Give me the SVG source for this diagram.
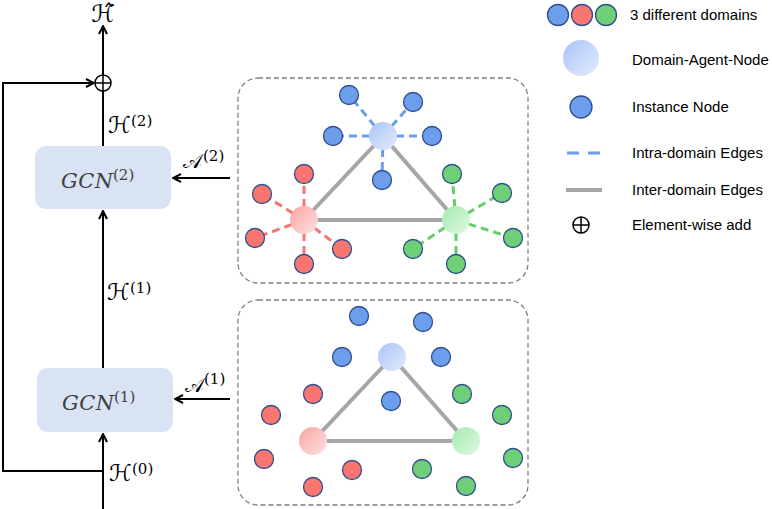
<svg xmlns="http://www.w3.org/2000/svg" width="772" height="509" viewBox="0 0 772 509">
<style>
.ln{stroke:#000;stroke-width:2;fill:none}
.math{font-family:"DejaVu Serif","DejaVu Sans","Noto Sans",serif;fill:#000}
.sup{font-family:"DejaVu Serif","Liberation Serif",serif;fill:#000}
.gcn{font-family:"DejaVu Serif","Liberation Serif",serif;font-style:italic;fill:#404040;letter-spacing:0.5px}
.gsup{font-family:"DejaVu Serif","Liberation Serif",serif;fill:#404040}
.box{fill:#dae3f3}
.panel{fill:none;stroke:#808080;stroke-width:1.3;stroke-dasharray:5,3}
.inter{stroke:#a6a6a6;stroke-width:4;fill:none}
.eb{stroke:#6d9eeb;stroke-width:3;stroke-dasharray:8,5;fill:none}
.er{stroke:#f4766f;stroke-width:3;stroke-dasharray:8,5;fill:none}
.eg{stroke:#66cc6e;stroke-width:3;stroke-dasharray:8,5;fill:none}
.ib{fill:#6d9eeb;stroke:#2f4f8f;stroke-width:1.3}
.ir{fill:#f8766f;stroke:#2f4f8f;stroke-width:1.3}
.ig{fill:#6fcf76;stroke:#2f4f8f;stroke-width:1.3}
.leg{font-family:"Liberation Sans",Arial,sans-serif;font-size:15px;fill:#000}
</style>
<defs>
<marker id="ah" viewBox="0 0 10 10" refX="9" refY="5" markerWidth="10" markerHeight="10" markerUnits="userSpaceOnUse" orient="auto">
<path d="M1,1 L9,5 L1,9" fill="none" stroke="#000" stroke-width="2"/>
</marker>
<linearGradient id="gb" x1="0" y1="0" x2="1" y2="1"><stop offset="0" stop-color="#a9c3f6"/><stop offset="1" stop-color="#e3ecfd"/></linearGradient>
<linearGradient id="gr" x1="0" y1="0" x2="1" y2="1"><stop offset="0" stop-color="#f9a3a1"/><stop offset="1" stop-color="#fde3e3"/></linearGradient>
<linearGradient id="gg" x1="0" y1="0" x2="1" y2="1"><stop offset="0" stop-color="#a5eaad"/><stop offset="1" stop-color="#e0f9e3"/></linearGradient>
</defs>

<g id="connectors">
<polyline class="ln" points="103,471 3,471 3,83 94,83" marker-end="url(#ah)"/>
<line class="ln" x1="103" y1="75" x2="103" y2="26" marker-end="url(#ah)"/>
<line class="ln" x1="103" y1="91" x2="103" y2="146"/>
<line class="ln" x1="103" y1="368" x2="103" y2="211" marker-end="url(#ah)"/>
<line class="ln" x1="103" y1="509" x2="103" y2="434" marker-end="url(#ah)"/>
<line class="ln" x1="230" y1="178" x2="173" y2="178" marker-end="url(#ah)"/>
<line class="ln" x1="230" y1="399" x2="175" y2="399" marker-end="url(#ah)"/>
</g>

<g id="labels">
<text class="math" x="103" y="22" font-size="24" text-anchor="middle">ℋ̂</text>
<text class="math" x="108" y="133" font-size="23">ℋ</text>
<text class="sup" x="131" y="126" font-size="15">(2)</text>
<text class="math" x="107" y="300" font-size="23">ℋ</text>
<text class="sup" x="130" y="293" font-size="15">(1)</text>
<text class="math" x="109" y="481" font-size="23">ℋ</text>
<text class="sup" x="132" y="474" font-size="15">(0)</text>
<text class="math" x="183" y="168" font-size="20">𝒜</text>
<text class="sup" x="203" y="161" font-size="15">(2)</text>
<text class="math" x="185" y="392" font-size="20">𝒜</text>
<text class="sup" x="204" y="384" font-size="15">(1)</text>
</g>

<g id="add">
<circle cx="103" cy="83" r="8" fill="none" stroke="#000" stroke-width="1.5"/>
<line x1="95" y1="83" x2="111" y2="83" stroke="#000" stroke-width="1.5"/>
<line x1="103" y1="75" x2="103" y2="91" stroke="#000" stroke-width="1.5"/>
</g>

<g id="gcn2">
<rect class="box" x="35" y="146" width="136" height="63" rx="11"/>
<text class="gcn" x="61" y="188" font-size="21">GCN</text>
<text class="gsup" x="113" y="180" font-size="15">(2)</text>
</g>

<g id="gcn1">
<rect class="box" x="37" y="368" width="136" height="64" rx="11"/>
<text class="gcn" x="62" y="410" font-size="21">GCN</text>
<text class="gsup" x="114" y="402" font-size="15">(1)</text>
</g>

<g id="graph2">
<rect class="panel" x="238" y="78" width="290" height="205" rx="20"/>
<g>
<line class="eb" x1="383" y1="136" x2="349" y2="95"/>
<line class="eb" x1="383" y1="136" x2="413" y2="102"/>
<line class="eb" x1="383" y1="136" x2="333" y2="136"/>
<line class="eb" x1="383" y1="136" x2="432" y2="136"/>
<line class="eb" x1="383" y1="136" x2="382" y2="180"/>
<line class="er" x1="304" y1="220" x2="304" y2="174"/>
<line class="er" x1="304" y1="220" x2="262" y2="194"/>
<line class="er" x1="304" y1="220" x2="255" y2="238"/>
<line class="er" x1="304" y1="220" x2="342" y2="249"/>
<line class="er" x1="304" y1="220" x2="304" y2="264"/>
<line class="eg" x1="456" y1="220" x2="452" y2="174"/>
<line class="eg" x1="456" y1="220" x2="502" y2="193"/>
<line class="eg" x1="456" y1="220" x2="513" y2="238"/>
<line class="eg" x1="456" y1="220" x2="413" y2="249"/>
<line class="eg" x1="456" y1="220" x2="456" y2="264"/>
<polygon class="inter" points="383,136 304,220 456,220"/>
</g>
<circle cx="383" cy="136" r="14" fill="url(#gb)"/>
<circle cx="304" cy="220" r="14" fill="url(#gr)"/>
<circle cx="456" cy="220" r="14" fill="url(#gg)"/>
<circle class="ib" cx="349" cy="95" r="9.5"/>
<circle class="ib" cx="413" cy="102" r="9.5"/>
<circle class="ib" cx="333" cy="136" r="9.5"/>
<circle class="ib" cx="432" cy="136" r="9.5"/>
<circle class="ib" cx="382" cy="180" r="9.5"/>
<circle class="ir" cx="304" cy="174" r="9.5"/>
<circle class="ir" cx="262" cy="194" r="9.5"/>
<circle class="ir" cx="255" cy="238" r="9.5"/>
<circle class="ir" cx="342" cy="249" r="9.5"/>
<circle class="ir" cx="304" cy="264" r="9.5"/>
<circle class="ig" cx="452" cy="174" r="9.5"/>
<circle class="ig" cx="502" cy="193" r="9.5"/>
<circle class="ig" cx="513" cy="238" r="9.5"/>
<circle class="ig" cx="413" cy="249" r="9.5"/>
<circle class="ig" cx="456" cy="264" r="9.5"/>
</g>

<g id="graph1">
<rect class="panel" x="238" y="300" width="290" height="205" rx="20"/>
<polygon class="inter" points="392,357 313,441 466,441"/>
<circle cx="392" cy="357" r="14" fill="url(#gb)"/>
<circle cx="313" cy="441" r="14" fill="url(#gr)"/>
<circle cx="466" cy="441" r="14" fill="url(#gg)"/>
<circle class="ib" cx="359" cy="316" r="9.5"/>
<circle class="ib" cx="423" cy="322" r="9.5"/>
<circle class="ib" cx="342" cy="357" r="9.5"/>
<circle class="ib" cx="441" cy="357" r="9.5"/>
<circle class="ib" cx="391" cy="401" r="9.5"/>
<circle class="ir" cx="313" cy="394" r="9.5"/>
<circle class="ir" cx="271" cy="415" r="9.5"/>
<circle class="ir" cx="264" cy="459" r="9.5"/>
<circle class="ir" cx="352" cy="470" r="9.5"/>
<circle class="ir" cx="313" cy="487" r="9.5"/>
<circle class="ig" cx="462" cy="394" r="9.5"/>
<circle class="ig" cx="502" cy="415" r="9.5"/>
<circle class="ig" cx="513" cy="458" r="9.5"/>
<circle class="ig" cx="422" cy="469" r="9.5"/>
<circle class="ig" cx="466" cy="486" r="9.5"/>
</g>

<g id="legend">
<circle class="ib" cx="558" cy="15" r="10.5"/>
<circle class="ir" cx="582" cy="15" r="10.5"/>
<circle class="ig" cx="606" cy="15" r="10.5"/>
<text class="leg" x="630" y="20">3 different domains</text>
<circle cx="581" cy="58" r="18" fill="url(#gb)"/>
<text class="leg" x="632" y="65">Domain-Agent-Node</text>
<circle class="ib" cx="581" cy="107" r="11"/>
<text class="leg" x="632" y="112">Instance Node</text>
<line class="eb" x1="567" y1="153" x2="600" y2="153" style="stroke-dasharray:12,9"/>
<text class="leg" x="632" y="158">Intra-domain Edges</text>
<line class="inter" x1="566" y1="190" x2="602" y2="190"/>
<text class="leg" x="632" y="195">Inter-domain Edges</text>
<circle cx="581" cy="225" r="8" fill="none" stroke="#000" stroke-width="1.5"/>
<line x1="573" y1="225" x2="589" y2="225" stroke="#000" stroke-width="1.5"/>
<line x1="581" y1="217" x2="581" y2="233" stroke="#000" stroke-width="1.5"/>
<text class="leg" x="632" y="230">Element-wise add</text>
</g>
</svg>
